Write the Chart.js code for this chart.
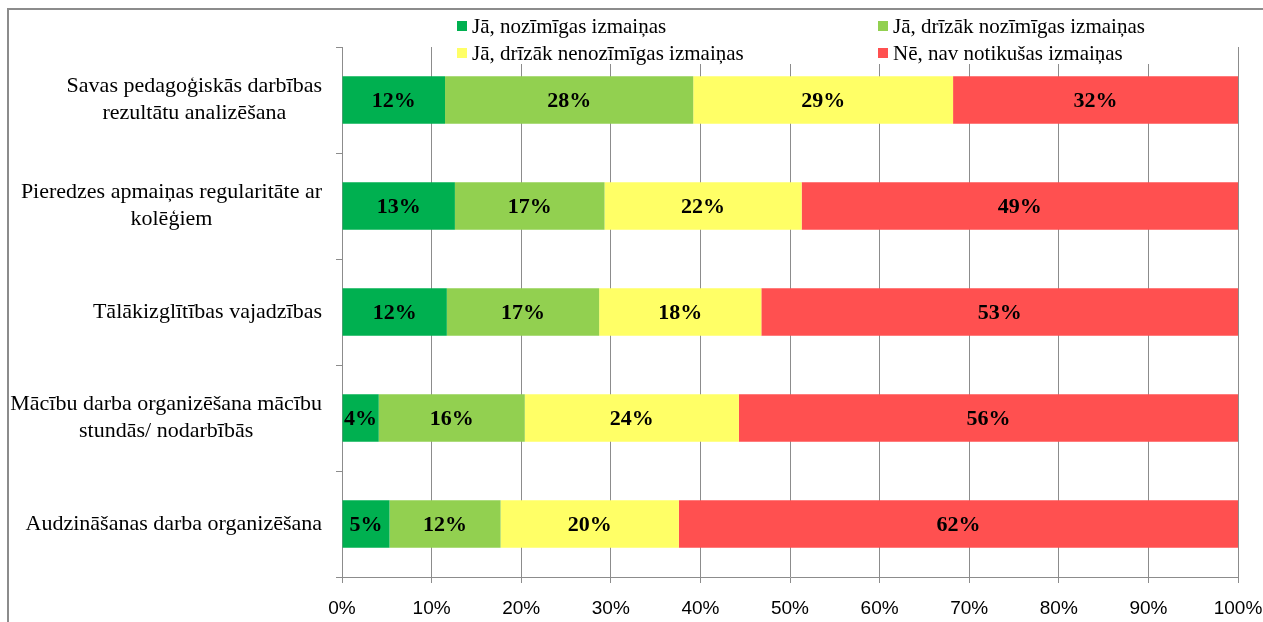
<!DOCTYPE html>
<html lang="lv">
<head>
<meta charset="UTF-8">
<title>Izmaiņas pedagoģiskajā darbībā</title>
<style>
    html, body { margin: 0; padding: 0; background: #fff; overflow: hidden; }
    .chart-container { position: relative; width: 1263px; height: 622px; }
</style>
</head>
<body>
<script src="https://cdn.jsdelivr.net/npm/chart.js@4.4.0/dist/chart.umd.min.js"></script>

<div class="chart-container">
    <canvas id="changes"></canvas>
</div>
<script>
    // categories (top to bottom) and the four answer series, % of respondents
    const categories = [
        ['Savas pedagoģiskās darbības', 'rezultātu analizēšana'],
        ['Pieredzes apmaiņas regularitāte ar', 'kolēģiem'],
        ['Tālākizglītības vajadzības'],
        ['Mācību darba organizēšana mācību', 'stundās/ nodarbībās'],
        ['Audzināšanas darba organizēšana']
    ]
    const seriesNames = [
        'Jā, nozīmīgas izmaiņas',
        'Jā, drīzāk nozīmīgas izmaiņas',
        'Jā, drīzāk nenozīmīgas izmaiņas',
        'Nē, nav notikušas izmaiņas'
    ]
    const significant = [11.5, 12.6, 11.7, 4.1, 5.3]
    const ratherSignificant = [27.7, 16.7, 17.0, 16.3, 12.4]
    const ratherInsignificant = [29.0, 22.0, 18.1, 23.9, 19.9]
    const noChanges = [31.8, 48.7, 53.2, 55.7, 62.4]
    const xTicks = [0, 10, 20, 30, 40, 50, 60, 70, 80, 90, 100]

    const colors = ['#00B050', '#92D050', '#FFFF66', '#FF5050']
    const gridColor = '#8C8C8C'
    const serif = "'Liberation Serif', 'Times New Roman', serif"

    // grey frame of the chart object
    const framePlugin = {
        id: 'frame',
        beforeDraw(chart) {
            const ctx = chart.ctx
            ctx.save()
            ctx.strokeStyle = '#8C8C8C'
            ctx.lineWidth = 2
            ctx.strokeRect(8, 9, chart.width + 40, chart.height + 40)
            ctx.restore()
        }
    }

    // legend in two columns, laid over the top of the plot area
    const legendPlugin = {
        id: 'twoColLegend',
        beforeDatasetsDraw(chart) {
            const ctx = chart.ctx
            ctx.save()
            ctx.fillStyle = '#fff'
            ctx.fillRect(444, 11, 760, 53)
            ctx.font = '21px ' + serif
            ctx.textBaseline = 'middle'
            ctx.textAlign = 'left'
            const cols = [457, 878]
            const rows = [26, 53]
            chart.data.datasets.forEach((ds, i) => {
                const x = cols[i % 2]
                const y = rows[Math.floor(i / 2)]
                ctx.fillStyle = ds.backgroundColor
                ctx.fillRect(x, y - 5, 10, 10)
                ctx.fillStyle = '#000'
                ctx.fillText(ds.label, x + 15, y + 1)
            })
            ctx.restore()
        }
    }

    // percentage labels in the middle of every segment
    const valuePlugin = {
        id: 'segmentValues',
        afterDatasetsDraw(chart) {
            const ctx = chart.ctx
            ctx.save()
            ctx.font = 'bold 22px ' + serif
            ctx.fillStyle = '#000'
            ctx.textAlign = 'center'
            ctx.textBaseline = 'middle'
            chart.data.datasets.forEach((ds, i) => {
                chart.getDatasetMeta(i).data.forEach((bar, j) => {
                    const cx = (bar.x + bar.base) / 2
                    ctx.fillText(Math.round(ds.data[j]) + '%', cx, bar.y + 1)
                })
            })
            ctx.restore()
        }
    }

    // category labels: block right aligned, lines centred inside the block
    const categoryPlugin = {
        id: 'categoryLabels',
        afterDraw(chart) {
            const ctx = chart.ctx
            const y = chart.scales.y
            const right = chart.chartArea.left - 20
            const lineH = 27
            ctx.save()
            ctx.font = '22px ' + serif
            ctx.fillStyle = '#000'
            ctx.textAlign = 'center'
            ctx.textBaseline = 'middle'
            chart.data.labels.forEach((lines, i) => {
                const w = Math.max(...lines.map(l => ctx.measureText(l).width))
                const cx = right - w / 2
                const cy = y.getPixelForTick(i)
                lines.forEach((l, k) => {
                    ctx.fillText(l, cx, cy + (k - (lines.length - 1) / 2) * lineH)
                })
            })
            ctx.restore()
        }
    }

    const ctx = document.getElementById('changes').getContext('2d')
    const changesChart = new Chart(ctx, {
        type: 'bar',
        data: {
            labels: categories,
            datasets: [significant, ratherSignificant, ratherInsignificant, noChanges].map((d, i) => ({
                label: seriesNames[i],
                data: d,
                backgroundColor: colors[i],
                borderWidth: 0,
                categoryPercentage: 1,
                barPercentage: 0.45
            }))
        },
        options: {
            indexAxis: 'y',
            responsive: true,
            maintainAspectRatio: false,
            animation: false,
            layout: {
                padding: {left: 0, top: 47, right: 25, bottom: 0}
            },
            plugins: {
                legend: {display: false},
                tooltip: {enabled: false}
            },
            scales: {
                x: {
                    stacked: true,
                    min: 0,
                    max: 100,
                    afterBuildTicks: scale => {
                        scale.ticks = xTicks.map(v => ({value: v}))
                    },
                    afterFit: scale => {
                        scale.height = 45
                        scale.paddingLeft = 0
                        scale.paddingRight = 0
                    },
                    grid: {
                        color: gridColor,
                        lineWidth: 1,
                        tickLength: 6,
                        drawTicks: true
                    },
                    border: {color: gridColor, width: 1},
                    ticks: {
                        padding: 14,
                        color: '#000',
                        font: {family: "'Liberation Sans', Arial, sans-serif", size: 19},
                        callback: v => v + '%'
                    }
                },
                y: {
                    stacked: true,
                    afterFit: scale => {
                        scale.width = 342
                    },
                    grid: {
                        offset: true,
                        drawOnChartArea: false,
                        drawTicks: true,
                        tickLength: 6,
                        color: gridColor
                    },
                    border: {color: gridColor, width: 1},
                    ticks: {display: false}
                }
            }
        },
        plugins: [framePlugin, legendPlugin, valuePlugin, categoryPlugin]
    })
</script>
</body>
</html>
